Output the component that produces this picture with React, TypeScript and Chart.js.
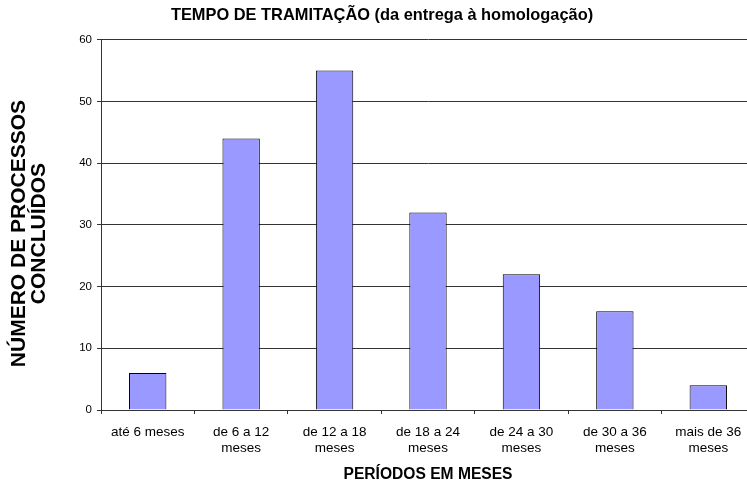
import React, { useEffect, useRef } from "react";
import { Chart, registerables } from "chart.js";

Chart.register(...registerables);

const categories: (string | string[])[] = [
  "até 6 meses",
  ["de 6 a 12", "meses"],
  ["de 12 a 18", "meses"],
  ["de 18 a 24", "meses"],
  ["de 24 a 30", "meses"],
  ["de 30 a 36", "meses"],
  ["mais de 36", "meses"],
];
const processos = [6, 44, 55, 32, 22, 16, 4];
const yMin = 0;
const yMax = 60;
const yStep = 10;

const chartTitle = "TEMPO DE TRAMITAÇÃO (da entrega à homologação)";
const xTitle = "PERÍODOS EM MESES";
const yTitle = ["NÚMERO DE PROCESSOS", "CONCLUÍDOS"];

const FONT = 'Arial, "Liberation Sans", sans-serif';
// trailing spaces nudge the rotated, centred axis title slightly downward
const PAD = "\u00A0\u00A0\u00A0";

export default function App() {
  const ref = useRef<HTMLCanvasElement | null>(null);

  useEffect(() => {
    if (!ref.current) return;
    const chart = new Chart(ref.current, {
      type: "bar",
      data: {
        labels: categories,
        datasets: [
          {
            data: processos,
            backgroundColor: "#9999FF",
            borderColor: "#000000",
            borderWidth: 1,
            barPercentage: 0.4,
            categoryPercentage: 1.0,
          },
        ],
      },
      options: {
        responsive: false,
        animation: false,
        devicePixelRatio: 1,
        layout: { padding: { left: 9, right: 5, top: 0, bottom: 0 } },
        plugins: {
          legend: { display: false },
          tooltip: { enabled: false },
          title: {
            display: true,
            text: chartTitle,
            color: "#000",
            font: { family: FONT, size: 16.4, weight: "bold" },
            padding: { top: 6, bottom: 14 },
          },
        },
        scales: {
          x: {
            grid: {
              display: true,
              drawOnChartArea: false,
              drawTicks: true,
              tickLength: 4,
              color: "#333",
              offset: true,
            },
            border: { display: true, color: "#333" },
            ticks: {
              color: "#000",
              font: { family: FONT, size: 13.5, lineHeight: 1.22 },
              maxRotation: 0,
              minRotation: 0,
              padding: 10,
              autoSkip: false,
            },
            title: {
              display: true,
              text: xTitle,
              color: "#000",
              font: { family: FONT, size: 15.6, weight: "bold" },
              padding: { top: 0, bottom: 1 },
            },
            afterFit: (s: any) => {
              s.height = 75;
            },
          },
          y: {
            min: yMin,
            max: yMax,
            grid: {
              display: true,
              drawTicks: true,
              tickLength: 4,
              color: "#333",
            },
            border: { display: true, color: "#333" },
            ticks: {
              stepSize: yStep,
              color: "#000",
              font: { family: FONT, size: 11.5 },
              padding: 5,
            },
            title: {
              display: true,
              text: yTitle.map((t) => t + PAD),
              color: "#000",
              font: { family: FONT, size: 21, weight: "bold", lineHeight: 0.95 },
              padding: { top: 0, bottom: 0 },
            },
            afterFit: (s: any) => {
              s.width = 92;
            },
          },
        },
      },
    });
    return () => chart.destroy();
  }, []);

  return (
    <div
      style={{
        position: "fixed",
        left: 0,
        top: 0,
        width: 747,
        height: 485,
        overflow: "hidden",
        background: "#fff",
      }}
    >
      <canvas ref={ref} width={760} height={485} style={{ display: "block" }} />
    </div>
  );
}
